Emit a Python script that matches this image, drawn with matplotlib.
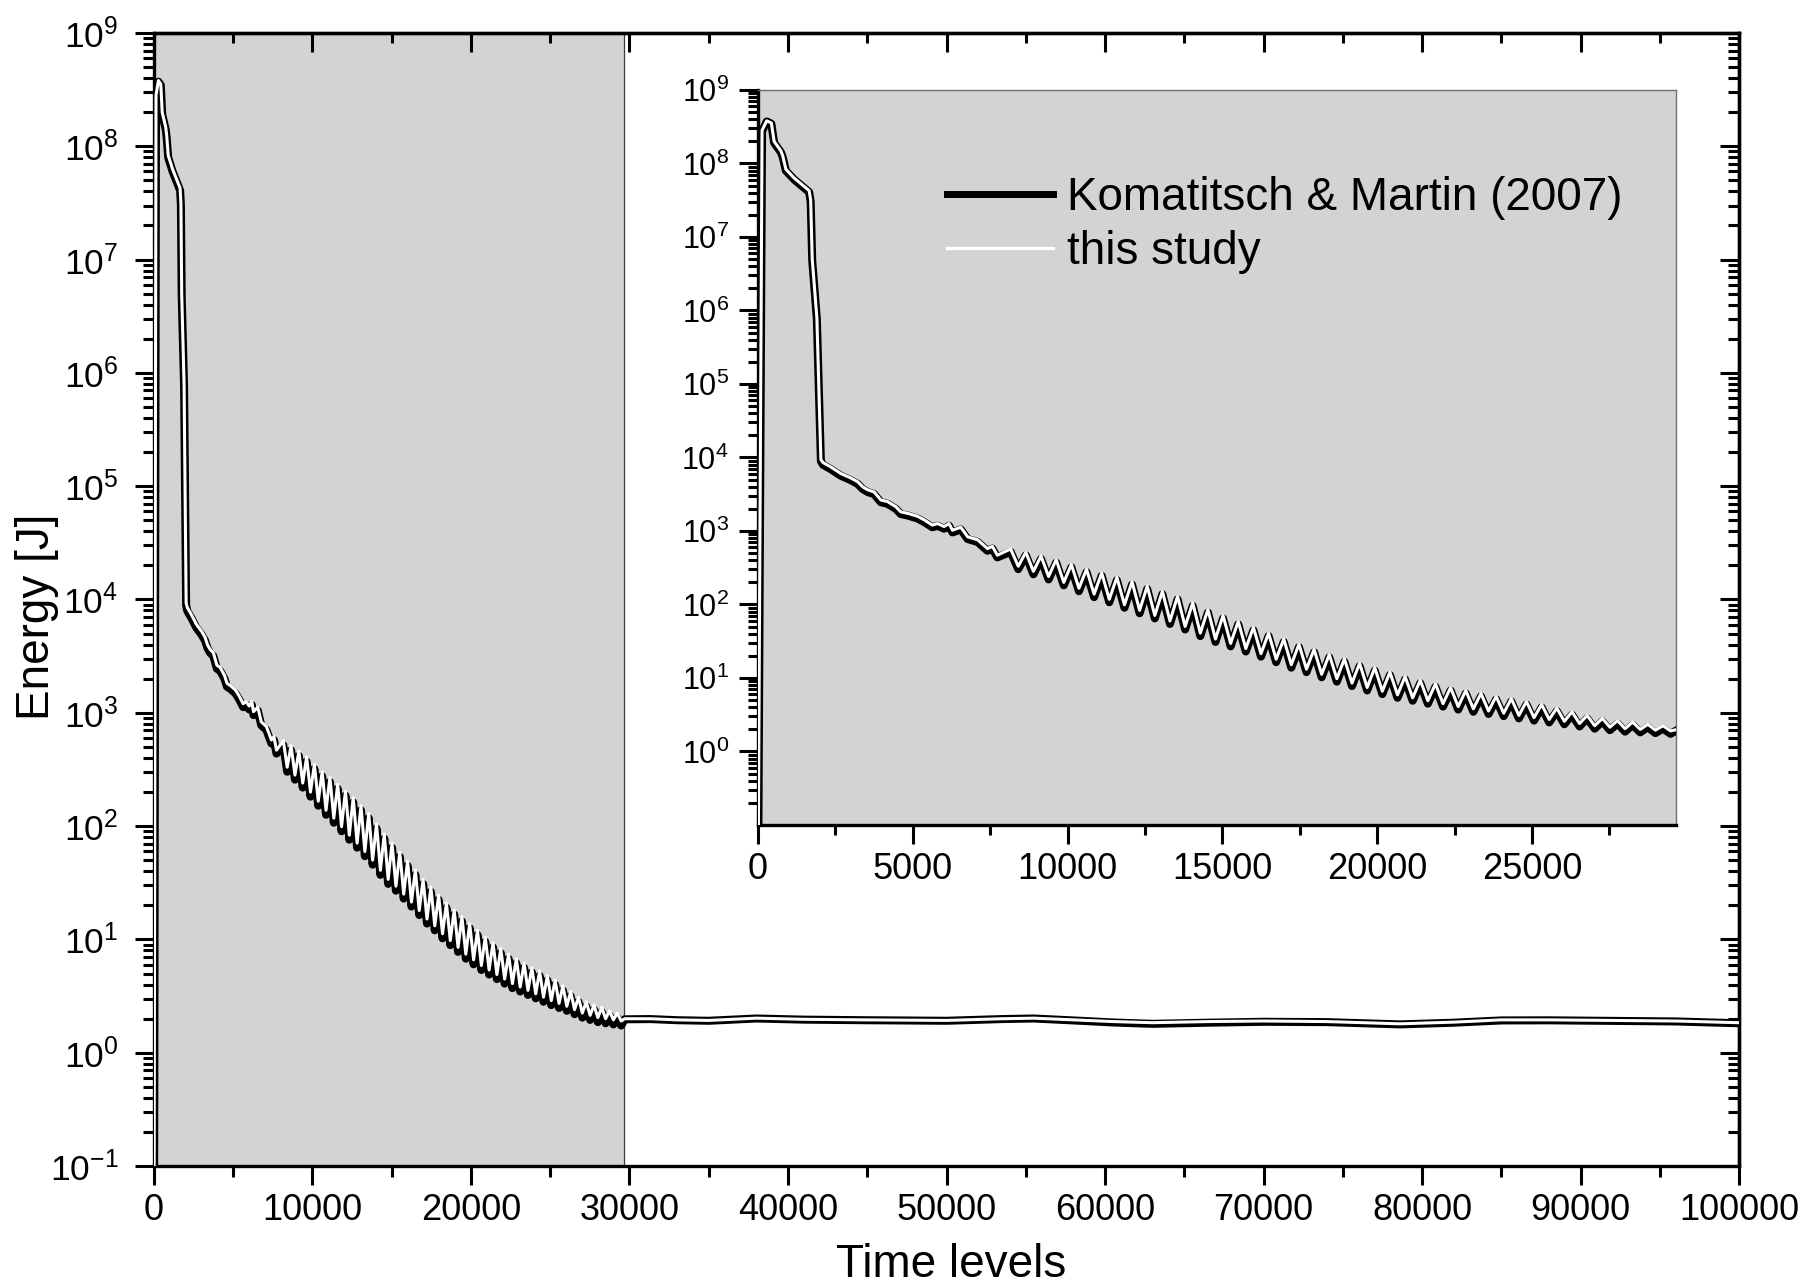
import numpy as np
import matplotlib
matplotlib.use("Agg")
import matplotlib.pyplot as plt
from matplotlib.ticker import (MultipleLocator, LogLocator, FixedLocator,
                               NullFormatter, LogFormatterSciNotation)
from matplotlib.lines import Line2D

plt.rcParams['font.family'] = ['Liberation Sans', 'DejaVu Sans']

# --- data: time levels and log10(energy [J]) ---
# start-up and steep drop
early_t = [0, 130, 280, 430, 520, 740, 800, 900, 1170, 1650,
           1700, 1750, 1900, 2030, 2100, 2350, 2680, 3000, 3215, 3380,
           3540, 3750, 3970, 4180, 4450, 4610, 4830, 5150, 5370, 5630,
           5800, 6010, 6170, 6280, 6550, 6770, 7090, 7410, 7570, 7730]
early_ts = [-2.0, 8.45, 8.58, 8.55, 8.30, 8.17, 8.10, 7.92, 7.80, 7.63,
            7.50, 6.70, 5.90, 3.97, 3.93, 3.87, 3.78, 3.72, 3.67, 3.60,
            3.56, 3.53, 3.42, 3.40, 3.33, 3.26, 3.24, 3.20, 3.15, 3.08,
            3.10, 3.06, 3.10, 3.01, 3.05, 2.92, 2.88, 2.76, 2.79, 2.67]
early_km = [-2.0, 8.44, 8.57, 8.54, 8.28, 8.15, 8.08, 7.90, 7.78, 7.61,
            7.48, 6.68, 5.88, 3.95, 3.90, 3.84, 3.75, 3.69, 3.64, 3.57,
            3.53, 3.50, 3.39, 3.37, 3.30, 3.23, 3.21, 3.17, 3.12, 3.05,
            3.07, 3.03, 3.07, 2.98, 3.02, 2.89, 2.85, 2.73, 2.76, 2.64]

# oscillating decay: peaks and troughs
osc_t = [8160, 8405, 8650, 8895, 9140, 9385, 9630, 9875, 10120, 10365,
         10610, 10855, 11100, 11345, 11590, 11835, 12080, 12325, 12570, 12815,
         13060, 13305, 13550, 13795, 14040, 14285, 14530, 14775, 15020, 15265,
         15510, 15755, 16000, 16245, 16490, 16735, 16980, 17225, 17470, 17715,
         17960, 18205, 18450, 18695, 18940, 19185, 19430, 19675, 19920, 20165,
         20410, 20655, 20900, 21145, 21390, 21635, 21880, 22125, 22370, 22615,
         22860, 23105, 23350, 23595, 23840, 24085, 24330, 24575, 24820, 25065,
         25310, 25555, 25800, 26045, 26290, 26535, 26780, 27025, 27270, 27515,
         27760, 28005, 28250, 28495, 28740, 28985, 29230, 29475]
osc_ts = [2.755, 2.52, 2.71, 2.45, 2.66, 2.38, 2.61, 2.30, 2.545, 2.22,
          2.48, 2.14, 2.43, 2.07, 2.37, 1.995, 2.31, 1.92, 2.25, 1.85,
          2.18, 1.775, 2.11, 1.70, 2.02, 1.61, 1.93, 1.53, 1.85, 1.47,
          1.77, 1.40, 1.69, 1.33, 1.61, 1.255, 1.53, 1.18, 1.46, 1.12,
          1.39, 1.05, 1.32, 0.99, 1.26, 0.93, 1.20, 0.87, 1.14, 0.82,
          1.08, 0.77, 1.02, 0.73, 0.97, 0.69, 0.92, 0.65, 0.87, 0.61,
          0.83, 0.58, 0.79, 0.55, 0.75, 0.52, 0.72, 0.49, 0.68, 0.46,
          0.64, 0.435, 0.59, 0.41, 0.54, 0.38, 0.49, 0.35, 0.45, 0.33,
          0.42, 0.31, 0.40, 0.30, 0.37, 0.29, 0.35, 0.28]
osc_km = [2.715, 2.48, 2.67, 2.41, 2.62, 2.34, 2.57, 2.26, 2.505, 2.18,
          2.44, 2.10, 2.39, 2.03, 2.33, 1.955, 2.27, 1.88, 2.21, 1.81,
          2.14, 1.735, 2.07, 1.66, 1.98, 1.57, 1.89, 1.49, 1.81, 1.43,
          1.73, 1.36, 1.65, 1.29, 1.57, 1.215, 1.49, 1.14, 1.42, 1.08,
          1.35, 1.01, 1.28, 0.95, 1.22, 0.89, 1.16, 0.83, 1.10, 0.78,
          1.04, 0.73, 0.98, 0.69, 0.93, 0.65, 0.88, 0.61, 0.83, 0.57,
          0.79, 0.54, 0.75, 0.51, 0.71, 0.48, 0.68, 0.45, 0.64, 0.42,
          0.60, 0.395, 0.55, 0.37, 0.50, 0.34, 0.45, 0.31, 0.41, 0.29,
          0.38, 0.27, 0.36, 0.26, 0.33, 0.25, 0.31, 0.24]

# flat tail
tail_t = [29700, 31300, 33000, 35000, 38000, 41000, 44800, 50000, 53500, 55500,
          58000, 60500, 63000, 66500, 70000, 74000, 78600, 82000, 85000, 88000,
          92000, 96000, 100000]
tail_ts = [0.30, 0.30, 0.29, 0.285, 0.305, 0.295, 0.29, 0.285, 0.30, 0.305,
           0.29, 0.275, 0.265, 0.275, 0.28, 0.275, 0.255, 0.27, 0.29, 0.29,
           0.285, 0.28, 0.265]
tail_km = [0.295, 0.297, 0.287, 0.282, 0.302, 0.292, 0.287, 0.282, 0.297, 0.302,
           0.285, 0.267, 0.255, 0.265, 0.273, 0.27, 0.25, 0.265, 0.285, 0.286,
           0.281, 0.276, 0.26]

labels = ['Komatitsch & Martin (2007)', 'this study']
shade_end = 29650

t = np.array(early_t + osc_t + tail_t)
e_km = 10.0 ** np.array(early_km + osc_km + tail_km)
e_ts = 10.0 ** np.array(early_ts + osc_ts + tail_ts)

GRAY = '#d3d3d3'


def draw_curves(a):
    a.plot(t, e_km, color='black', lw=5.8, solid_joinstyle='round', zorder=3)
    a.plot(t, e_ts, color='white', lw=2.2, solid_joinstyle='round', zorder=4)


fig = plt.figure(figsize=(18.07, 12.88), dpi=100)

# ---------------- main axes ----------------
ax = fig.add_axes([0.0852, 0.0947, 0.8772, 0.8797])
ax.axvspan(0, shade_end, color=GRAY, lw=0, zorder=0)
ax.axvline(shade_end, color='#3c3c3c', lw=0.9, zorder=1)
draw_curves(ax)
ax.set_yscale('log')
ax.set_xlim(0, 100000)
ax.set_ylim(0.1, 1e9)

ax.xaxis.set_major_locator(MultipleLocator(10000))
ax.xaxis.set_minor_locator(MultipleLocator(5000))
ax.yaxis.set_major_locator(LogLocator(base=10, numticks=30))
ax.yaxis.set_minor_locator(LogLocator(base=10, subs=np.arange(2, 10), numticks=30))
ax.yaxis.set_major_formatter(LogFormatterSciNotation())
ax.yaxis.set_minor_formatter(NullFormatter())

ax.tick_params(which='major', direction='out', length=13.7, width=2.2)
ax.tick_params(which='minor', direction='out', length=8, width=2.2)
ax.tick_params(axis='x', labelsize=26, pad=5.5)
ax.tick_params(axis='y', labelsize=25.5, pad=12)
ax.tick_params(top=False, right=False)
for s in ax.spines.values():
    s.set_linewidth(2.4)

secx = ax.secondary_xaxis('top')
secx.xaxis.set_major_locator(MultipleLocator(10000))
secx.xaxis.set_minor_locator(MultipleLocator(5000))
secx.tick_params(which='major', direction='in', length=13.7, width=2.2, labeltop=False)
secx.tick_params(which='minor', direction='in', length=7.5, width=2.2)
secx.spines['top'].set_linewidth(2.4)

secy = ax.secondary_yaxis('right')
secy.yaxis.set_major_locator(LogLocator(base=10, numticks=30))
secy.yaxis.set_minor_locator(LogLocator(base=10, subs=np.arange(2, 10), numticks=30))
secy.yaxis.set_minor_formatter(NullFormatter())
secy.tick_params(which='major', direction='in', length=13.7, width=2.2, labelright=False)
secy.tick_params(which='minor', direction='in', length=8, width=2.2)
secy.spines['right'].set_linewidth(2.4)

ax.set_xlabel('Time levels', fontsize=33)
ax.set_ylabel('Energy [J]', fontsize=33)
ax.xaxis.set_label_coords(0.503, -0.068)
ax.yaxis.set_label_coords(-0.060, 0.485)

# ---------------- inset ----------------
ins = fig.add_axes([0.4195, 0.3595, 0.5080, 0.5707], zorder=5)
ins.set_facecolor(GRAY)
draw_curves(ins)
ins.set_yscale('log')
ins.set_xlim(0, shade_end)
ins.set_ylim(0.1, 1e9)
ins.xaxis.set_major_locator(MultipleLocator(5000))
ins.xaxis.set_minor_locator(MultipleLocator(2500))
ins.yaxis.set_major_locator(FixedLocator([10.0 ** k for k in range(0, 10)]))
ins.yaxis.set_minor_locator(LogLocator(base=10, subs=np.arange(2, 10), numticks=30))
ins.yaxis.set_major_formatter(LogFormatterSciNotation())
ins.yaxis.set_minor_formatter(NullFormatter())
ins.tick_params(which='major', direction='out', length=14, width=2.2)
ins.tick_params(which='minor', direction='out', length=7.5, width=2.2)
ins.tick_params(axis='x', labelsize=26, pad=5.5)
ins.tick_params(axis='y', labelsize=22, pad=7)
ins.tick_params(top=False, right=False)
ins.spines['left'].set_linewidth(2.4)
ins.spines['bottom'].set_linewidth(2.4)
for side in ('top', 'right'):
    ins.spines[side].set_linewidth(1.0)
    ins.spines[side].set_color('#6e6e6e')

handles = [Line2D([], [], color='black', lw=5.0),
           Line2D([], [], color='white', lw=2.4)]
ins.legend(handles, labels, loc='upper left',
           bbox_to_anchor=(947 / 1807, 1 - 176 / 1288),
           bbox_transform=fig.transFigure, frameon=False, fontsize=33,
           handlelength=2.31, handletextpad=0.3, labelspacing=0.21,
           borderpad=0, borderaxespad=0)

fig.savefig('out.png', dpi=100)
